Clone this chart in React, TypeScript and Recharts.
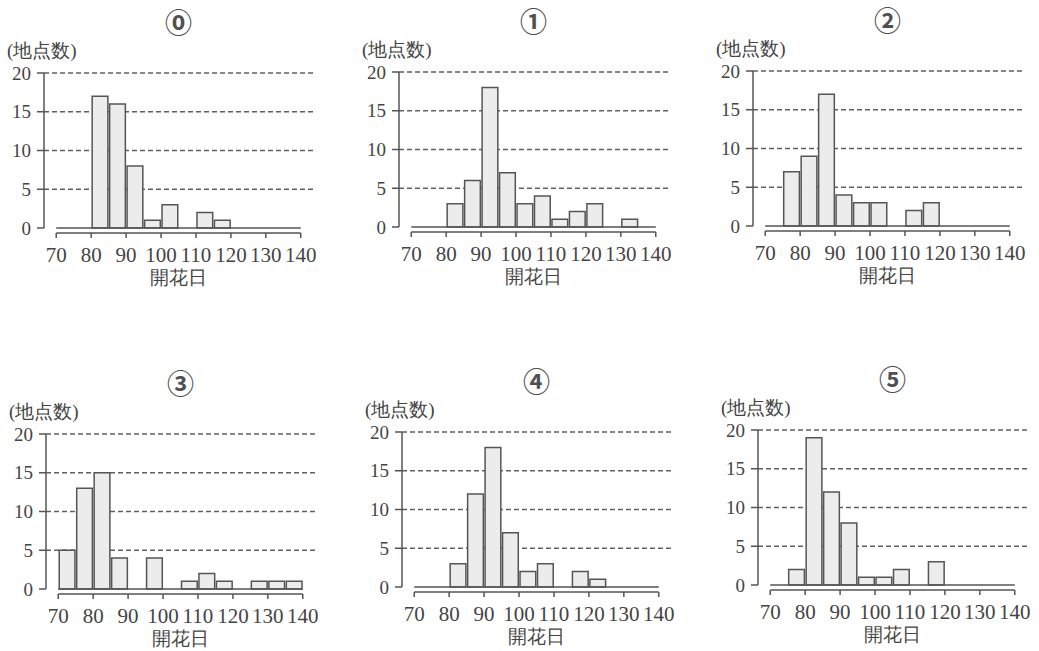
import React from "react";
import {
  BarChart,
  Bar,
  XAxis,
  YAxis,
  CartesianGrid,
  ReferenceLine,
} from "recharts";

// bins of 5 days, 70..140
const binStarts = [70, 75, 80, 85, 90, 95, 100, 105, 110, 115, 120, 125, 130, 135];
const xTicks = [70, 80, 90, 100, 110, 120, 130, 140];
const yTicks = [0, 5, 10, 15, 20];
const gridValues = [5, 10, 15, 20];

const counts0 = [0, 0, 17, 16, 8, 1, 3, 0, 2, 1, 0, 0, 0, 0];
const counts1 = [0, 0, 3, 6, 18, 7, 3, 4, 1, 2, 3, 0, 1, 0];
const counts2 = [0, 7, 9, 17, 4, 3, 3, 0, 2, 3, 0, 0, 0, 0];
const counts3 = [5, 13, 15, 4, 0, 4, 0, 1, 2, 1, 0, 1, 1, 1];
const counts4 = [0, 0, 3, 12, 18, 7, 2, 3, 0, 2, 1, 0, 0, 0];
const counts5 = [0, 2, 19, 12, 8, 1, 1, 2, 0, 3, 0, 0, 0, 0];

const titles = ["⓪", "①", "②", "③", "④", "⑤"];
const allCounts = [counts0, counts1, counts2, counts3, counts4, counts5];

const BIN = 5;
const X_MIN = 66.5;
const X_MAX = 143.5;

const PANEL_W = 330;
const PANEL_H = 300;
const Y_AXIS_W = 44;
const PLOT_TOP = 73;
const X_AXIS_H = 72;
const RIGHT = 17;
const PLOT_W = PANEL_W - Y_AXIS_W - RIGHT;
const BAR_W = (PLOT_W / (X_MAX - X_MIN)) * BIN;

const panelPos = [
  [0, 0],
  [355, -1],
  [709, -2],
  [2, 361],
  [358, 359],
  [714, 357],
];

const INK = "#555";
const TEXT = "#444";
const SERIF = "Liberation Serif";

const XTick = (props: any) => {
  const { x, y, payload } = props;
  return (
    <g>
      <line x1={x} y1={y + 5} x2={x} y2={y + 10} stroke={INK} strokeWidth={1.5} />
      <text
        x={x}
        y={y + 34}
        textAnchor="middle"
        fontSize={21}
        fill={TEXT}
        fontFamily={SERIF}
      >
        {payload.value}
      </text>
    </g>
  );
};

const Histogram = ({ counts, title }: { counts: number[]; title: string }) => {
  const data = binStarts.map((s, i) => ({ mid: s + BIN / 2, count: counts[i] }));
  return (
    <div style={{ position: "relative", width: PANEL_W, height: PANEL_H, fontFamily: SERIF }}>
      <div
        style={{
          position: "absolute",
          left: Y_AXIS_W,
          width: PLOT_W,
          top: 7,
          textAlign: "center",
          fontSize: 27,
          fontWeight: 700,
          lineHeight: "30px",
          color: "#505050",
          fontFamily: "Noto Sans CJK JP",
        }}
      >
        {title}
      </div>
      <div
        style={{
          position: "absolute",
          left: 7,
          top: 40,
          fontSize: 19,
          lineHeight: "22px",
          color: TEXT,
          fontFamily: SERIF,
          whiteSpace: "nowrap",
        }}
      >
        (地点数)
      </div>
      <BarChart
        width={PANEL_W}
        height={PANEL_H}
        data={data}
        margin={{ top: PLOT_TOP, right: RIGHT, bottom: 0, left: 0 }}
        barCategoryGap={0}
        style={{ position: "absolute", left: 0, top: 0, fontFamily: SERIF }}
      >
        <CartesianGrid
          vertical={false}
          horizontalValues={gridValues}
          stroke="#606060"
          strokeDasharray="5 3"
          strokeWidth={1.3}
        />
        <XAxis
          dataKey="mid"
          type="number"
          domain={[X_MIN, X_MAX]}
          ticks={xTicks}
          allowDataOverflow
          axisLine={false}
          tickLine={false}
          tickSize={0}
          tickMargin={0}
          height={X_AXIS_H}
          tick={<XTick />}
          label={{
            value: "開花日",
            position: "insideBottom",
            offset: 16,
            fontSize: 19,
            fill: TEXT,
            fontFamily: SERIF,
          }}
        />
        <YAxis
          domain={[0, 20]}
          ticks={yTicks}
          width={Y_AXIS_W}
          axisLine={{ stroke: INK, strokeWidth: 1.5 }}
          tickLine={{ stroke: INK, strokeWidth: 1.5 }}
          tickSize={7}
          tickMargin={6}
          tick={{ fontSize: 19, fill: TEXT, fontFamily: SERIF }}
        />
        <Bar
          dataKey="count"
          barSize={BAR_W}
          fill="#ececec"
          stroke={INK}
          strokeWidth={1.5}
          isAnimationActive={false}
        />
        <ReferenceLine
          segment={[
            { x: 70, y: 0 },
            { x: 140, y: 0 },
          ]}
          stroke={INK}
          strokeWidth={1.5}
          ifOverflow="visible"
        />
        <ReferenceLine
          segment={[
            { x: 70, y: -0.65 },
            { x: 140, y: -0.65 },
          ]}
          stroke={INK}
          strokeWidth={1.5}
          ifOverflow="visible"
        />
      </BarChart>
    </div>
  );
};

const App = () => {
  return (
    <div
      style={{
        position: "absolute",
        left: 0,
        top: 0,
        width: 1039,
        height: 651,
        background: "#fff",
        overflow: "hidden",
      }}
    >
      {allCounts.map((c, i) => (
        <div
          key={i}
          style={{ position: "absolute", left: panelPos[i][0], top: panelPos[i][1] }}
        >
          <Histogram counts={c} title={titles[i]} />
        </div>
      ))}
    </div>
  );
};

export default App;
